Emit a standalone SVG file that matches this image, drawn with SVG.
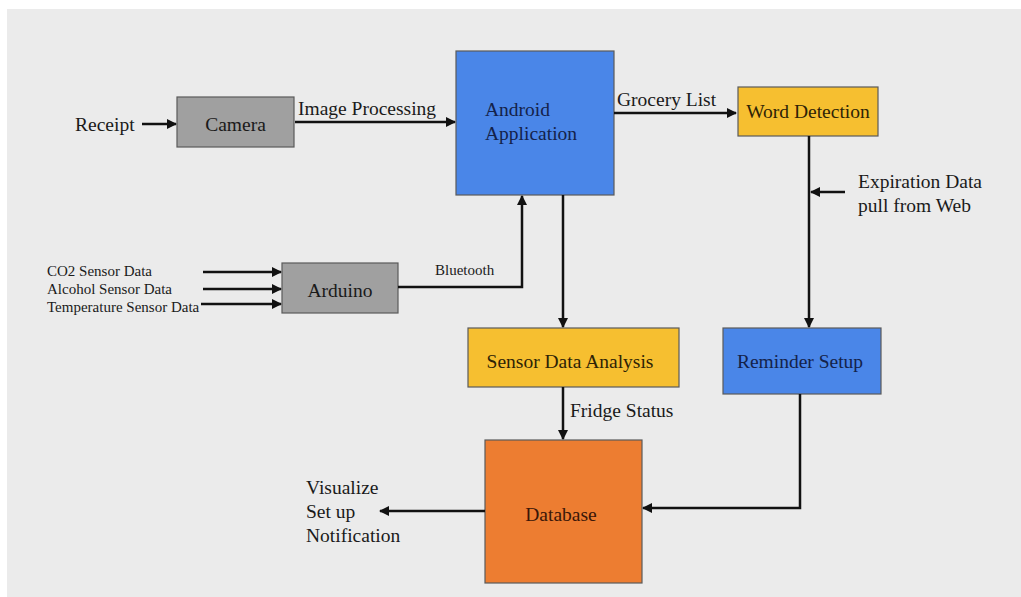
<svg xmlns="http://www.w3.org/2000/svg" width="1021" height="597" viewBox="0 0 1021 597">
<defs>
<marker id="ah" viewBox="0 0 10 10" refX="9" refY="5" markerWidth="4" markerHeight="4" orient="auto" markerUnits="strokeWidth">
<path d="M0,0 L10,5 L0,10 Z" fill="#111"/>
</marker>
<style>
.bg{fill:#ebebeb}
.box{stroke:#5a5a5a;stroke-width:1.2}
.gray{fill:#a0a0a0}
.blue{fill:#4a86e8}
.yellow{fill:#f6bf30}
.orange{fill:#ed7d31}
.t{font-family:"Liberation Serif","Times New Roman",serif;font-size:19.5px;fill:#1a1a1a}
.s{font-family:"Liberation Serif","Times New Roman",serif;font-size:15px;fill:#1a1a1a}
.c{text-anchor:middle}
.nb{fill:#14224a}
.ny{fill:#2e2306}
.no{fill:#3a1608}
.ln{fill:none;stroke:#111;stroke-width:2.5}
.ar{marker-end:url(#ah)}
</style>
</defs>
<rect x="0" y="0" width="1021" height="597" fill="#ffffff"/>
<rect class="bg" x="7" y="9" width="1014" height="588"/>

<g id="camera">
<rect class="box gray" x="177" y="97" width="117" height="50"/>
<text class="t c" x="235.5" y="131">Camera</text>
</g>
<g id="android">
<rect class="box blue" x="456" y="51" width="158" height="144"/>
<text class="t nb" x="485" y="116">Android</text>
<text class="t nb" x="485" y="140">Application</text>
</g>
<g id="word-detection">
<rect class="box yellow" x="738" y="87" width="140" height="49"/>
<text class="t c ny" x="808" y="118">Word Detection</text>
</g>
<g id="arduino">
<rect class="box gray" x="282" y="263" width="116" height="50"/>
<text class="t c" x="340" y="297">Arduino</text>
</g>
<g id="sensor-data-analysis">
<rect class="box yellow" x="468" y="328" width="211" height="59"/>
<text class="t c ny" x="570" y="368">Sensor Data Analysis</text>
</g>
<g id="reminder-setup">
<rect class="box blue" x="723" y="328" width="158" height="66"/>
<text class="t c nb" x="800" y="368">Reminder Setup</text>
</g>
<g id="database">
<rect class="box orange" x="485" y="440" width="157" height="143"/>
<text class="t c no" x="561" y="521">Database</text>
</g>

<g id="labels">
<text class="t" x="75" y="131">Receipt</text>
<text class="t" x="298" y="115">Image Processing</text>
<text class="t" x="617" y="106">Grocery List</text>
<text class="t" x="858" y="188">Expiration Data</text>
<text class="t" x="858" y="212">pull from Web</text>
<text class="s" x="47" y="276">CO2 Sensor Data</text>
<text class="s" x="47" y="294">Alcohol Sensor Data</text>
<text class="s" x="47" y="312">Temperature Sensor Data</text>
<text class="s" x="435" y="275">Bluetooth</text>
<text class="t" x="570" y="417">Fridge Status</text>
<text class="t" x="306" y="494">Visualize</text>
<text class="t" x="306" y="518">Set up</text>
<text class="t" x="306" y="542">Notification</text>
</g>

<g id="connectors">
<path class="ln ar" d="M142,124 H176"/>
<path class="ln ar" d="M295,122 H455"/>
<path class="ln ar" d="M614,113 H736"/>
<path class="ln ar" d="M809,136 V327"/>
<path class="ln ar" d="M845,192 H811"/>
<path class="ln ar" d="M203,272 H281"/>
<path class="ln ar" d="M203,289 H281"/>
<path class="ln ar" d="M201,304 H281"/>
<path class="ln ar" d="M398,287 H522 V196"/>
<path class="ln ar" d="M563,195 V327"/>
<path class="ln ar" d="M563,387 V439"/>
<path class="ln ar" d="M800,394 V508 H643"/>
<path class="ln ar" d="M485,511 H380"/>
</g>
</svg>
